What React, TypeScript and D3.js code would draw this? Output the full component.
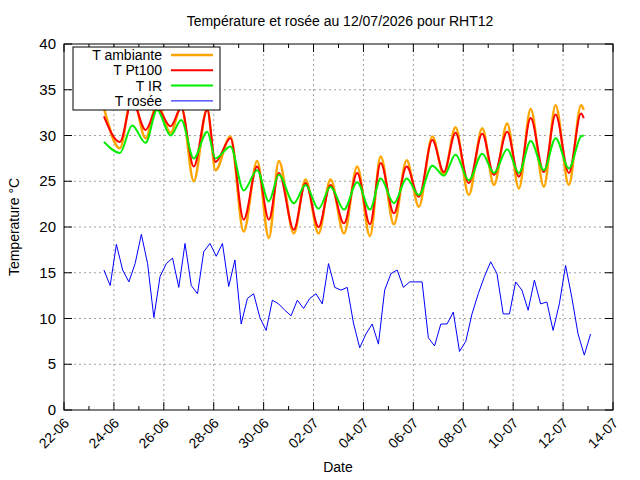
import React, { useEffect, useRef } from 'react';
import * as d3 from 'd3';

// days since 22-06-2026 00:00
const tempTimes = [1.6, 2.24, 2.73, 3.27, 3.73, 4.27, 4.7, 5.2, 5.74, 6.07, 6.67, 7.2, 7.74, 8.21, 8.61, 9.21, 9.68, 10.2, 10.68, 11.22, 11.75, 12.26, 12.69, 13.22, 13.73, 14.22, 14.76, 15.22, 15.69, 16.22, 16.76, 17.23, 17.76, 18.23, 18.7, 19.23, 19.7, 20.23, 20.72, 20.83];
const tAmbiante = [33, 28.6, 34.5, 29.7, 33.5, 30.3, 33.2, 25.0, 33.0, 26.2, 29.9, 19.5, 27.2, 18.8, 27.2, 19.3, 25.2, 19.3, 25.2, 19.3, 26.6, 19.0, 27.7, 20.3, 27.3, 22.2, 29.9, 25.7, 30.9, 23.5, 30.8, 24.6, 31.3, 24.2, 32.9, 24.4, 33.3, 24.6, 33.3, 32.8];
const tPt100 = [32.1, 29.3, 33.8, 30.6, 33.0, 31.0, 33.0, 26.6, 32.8, 27.1, 29.7, 20.8, 26.6, 20.8, 25.9, 19.7, 24.8, 20.0, 24.6, 20.4, 25.9, 20.3, 27.0, 21.5, 26.6, 23.3, 29.5, 26.0, 30.3, 24.8, 30.2, 25.7, 30.4, 25.5, 31.9, 26.0, 32.3, 25.9, 32.4, 31.9];
const tIR = [29.3, 28.1, 31.1, 29.2, 32.8, 30.0, 31.7, 27.5, 30.4, 27.5, 28.8, 24.0, 26.2, 22.8, 25.7, 22.6, 24.6, 22.0, 24.4, 21.9, 24.9, 21.9, 25.3, 22.6, 25.3, 23.5, 26.7, 25.6, 27.9, 25.1, 28.0, 25.9, 28.5, 25.9, 29.4, 26.2, 29.7, 26.4, 29.9, 30.0];

// dew point, every 6 h from day 1.6
const dewStart = 1.6;
const dewStep = 0.25;
const tRosee = [15.3, 13.6, 18.1, 15.3, 14.0, 16.0, 19.2, 16.0, 10.1, 14.6, 16.0, 16.6, 13.4, 18.2, 13.6, 12.7, 17.3, 18.2, 16.8, 18.2, 13.5, 16.4, 9.4, 12.2, 12.7, 10.1, 8.7, 12.0, 11.6, 10.9, 10.3, 12.0, 11.1, 12.2, 12.7, 11.6, 16.0, 13.4, 13.1, 13.4, 9.5, 6.8, 8.3, 9.4, 7.2, 13.1, 14.9, 15.3, 13.4, 14.0, 14.0, 14.0, 7.9, 7.0, 9.4, 9.4, 10.7, 6.4, 7.5, 10.5, 12.7, 14.6, 16.2, 14.9, 10.5, 10.5, 14.0, 13.1, 10.9, 14.2, 11.6, 11.8, 8.7, 11.6, 15.8, 12.3, 8.3, 6.0, 8.3];

const yTicks = [0, 5, 10, 15, 20, 25, 30, 35, 40];
const legendLabels = ['T ambiante', 'T Pt100', 'T IR', 'T rosée'];
const colors = ['#ffa500', '#ff0000', '#00ee00', '#0000ff'];
const widths = [2.5, 2, 2, 1];

const day0 = Date.UTC(2026, 5, 22);
const toDate = (d: number) => new Date(day0 + d * 86400000);

const App: React.FC = () => {
  const svgRef = useRef<SVGSVGElement | null>(null);

  useEffect(() => {
    if (!svgRef.current) return;
    const svg = d3.select(svgRef.current);
    svg.selectAll('*').remove();

    const left = 64, right = 613, top = 44, bottom = 410;
    const font = 'Liberation Sans, Arial, sans-serif';

    const x = d3.scaleUtc().domain([toDate(0), toDate(22)]).range([left, right]);
    const y = d3.scaleLinear().domain([0, 40]).range([bottom, top]);

    const majors = d3.range(0, 23, 2).map(toDate);
    const minors = d3.range(0, 23, 1).map(toDate);

    // grid
    const grid = svg.append('g').attr('stroke', '#a0a0a0').attr('stroke-dasharray', '2,3').attr('stroke-width', 1);
    majors.slice(1, -1).forEach((d) => {
      grid.append('line').attr('x1', x(d)).attr('x2', x(d)).attr('y1', top).attr('y2', bottom);
    });
    yTicks.slice(1, -1).forEach((v) => {
      grid.append('line').attr('x1', left).attr('x2', right).attr('y1', y(v)).attr('y2', y(v));
    });

    // ticks, mirrored on all sides
    const ticks = svg.append('g').attr('stroke', '#000').attr('stroke-width', 1);
    yTicks.forEach((v) => {
      ticks.append('line').attr('x1', left).attr('x2', left + 8).attr('y1', y(v)).attr('y2', y(v));
      ticks.append('line').attr('x1', right).attr('x2', right - 8).attr('y1', y(v)).attr('y2', y(v));
    });
    minors.forEach((d, i) => {
      const len = i % 2 === 0 ? 8 : 4;
      ticks.append('line').attr('x1', x(d)).attr('x2', x(d)).attr('y1', bottom).attr('y2', bottom - len);
      ticks.append('line').attr('x1', x(d)).attr('x2', x(d)).attr('y1', top).attr('y2', top + len);
    });

    // labels
    const fmt = d3.utcFormat('%d-%m');
    yTicks.forEach((v) => {
      svg.append('text').attr('x', left - 8).attr('y', y(v) + 5).attr('text-anchor', 'end')
        .attr('font-family', font).attr('font-size', 15).text(v);
    });
    majors.forEach((d) => {
      svg.append('text').attr('transform', `translate(${x(d) + 6},${bottom + 14}) rotate(-45)`)
        .attr('text-anchor', 'end').attr('font-family', font).attr('font-size', 14).text(fmt(d));
    });
    svg.append('text').attr('x', 340).attr('y', 26).attr('text-anchor', 'middle')
      .attr('font-family', font).attr('font-size', 14).text('Température et rosée au 12/07/2026 pour RHT12');
    svg.append('text').attr('x', 338).attr('y', 472).attr('text-anchor', 'middle')
      .attr('font-family', font).attr('font-size', 14).text('Date');
    svg.append('text').attr('transform', `translate(19,${(top + bottom) / 2}) rotate(-90)`)
      .attr('text-anchor', 'middle').attr('font-family', font).attr('font-size', 14).text('Temperature °C');

    // temperature series
    const series: [number, number][][] = [
      tAmbiante.map((v, i) => [tempTimes[i], v]),
      tPt100.map((v, i) => [tempTimes[i], v]),
      tIR.map((v, i) => [tempTimes[i], v]),
    ];
    const lineSmooth = d3.line<[number, number]>()
      .x((d) => x(toDate(d[0]))).y((d) => y(d[1])).curve(d3.curveMonotoneX);
    series.forEach((s, i) => {
      svg.append('path').datum(s).attr('fill', 'none').attr('stroke', colors[i])
        .attr('stroke-width', widths[i]).attr('d', lineSmooth);
    });

    // dew point
    const dew: [number, number][] = tRosee.map((v, i) => [dewStart + i * dewStep, v]);
    const lineStep = d3.line<[number, number]>()
      .x((d) => x(toDate(d[0]))).y((d) => y(d[1]));
    svg.append('path').datum(dew).attr('fill', 'none').attr('stroke', colors[3])
      .attr('stroke-width', widths[3]).attr('d', lineStep);

    // legend
    const lg = svg.append('g');
    lg.append('rect').attr('x', 73).attr('y', 47).attr('width', 147).attr('height', 63)
      .attr('fill', '#fff').attr('stroke', '#000').attr('stroke-width', 1);
    legendLabels.forEach((lab, i) => {
      const ly = 55 + i * 15.3;
      lg.append('text').attr('x', 162).attr('y', ly + 5).attr('text-anchor', 'end')
        .attr('font-family', font).attr('font-size', 14).text(lab);
      lg.append('line').attr('x1', 171).attr('x2', 213).attr('y1', ly).attr('y2', ly)
        .attr('stroke', colors[i]).attr('stroke-width', widths[i]);
    });

    // border
    svg.append('rect').attr('x', left).attr('y', top).attr('width', right - left)
      .attr('height', bottom - top).attr('fill', 'none').attr('stroke', '#000');
  }, []);

  return <svg ref={svgRef} width={640} height={480} style={{ position: 'absolute', left: 0, top: 0, background: '#fff' }} />;
};

export default App;
